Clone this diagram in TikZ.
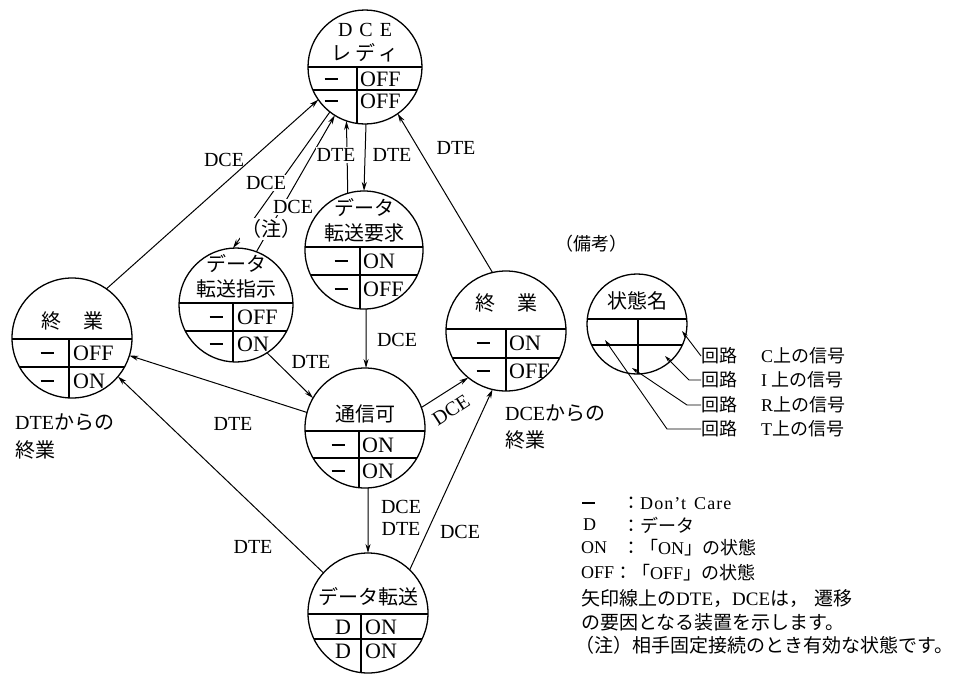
\documentclass[tikz,border=0pt]{standalone}
\usepackage{fontspec}
\setmainfont{Liberation Serif}
\newfontfamily\jpfont{Noto Sans CJK JP}
\newcommand\jp[1]{{\jpfont #1}}
\newcommand\dsh{\rule{13pt}{1.2pt}}
\usetikzlibrary{arrows.meta}
\newcommand\stc[7]{%
  \begin{scope}
    \clip (#2,#3) circle[radius=#4pt];
    \draw[cl] (#2-#4,#5) -- (#2+#4,#5);
    \draw[cl] (#2-#4,#6) -- (#2+#4,#6);
    \draw[cl] (#7,#5) -- (#7,#3+#4);
  \end{scope}
  \node[stc, minimum size=#4pt*2] (#1) at (#2,#3) {};}
\begin{document}
\begin{tikzpicture}[x=1pt,y=-1pt,
  stc/.style={circle,draw,line width=1.3pt,inner sep=0pt,outer sep=0pt},
  cl/.style={line width=1.1pt},
  arr/.style={line width=1pt,-{Stealth[length=9pt,width=5pt]}},
  larr/.style={line width=0.9pt,-{Stealth[length=7pt,width=4pt]}},
  lbl/.style={font=\fontsize{20}{22}\selectfont,inner sep=1pt},
  wl/.style={lbl,fill=white},
  ttl/.style={font=\fontsize{20}{22}\selectfont\jpfont,inner sep=0pt},
  cell/.style={font=\fontsize{22}{24}\selectfont,inner sep=0pt},
  cellw/.style={cell,anchor=west},
  leg/.style={font=\fontsize{18}{20}\selectfont,anchor=west,inner sep=0pt},
  legj/.style={font=\fontsize{19}{21}\selectfont,anchor=west,inner sep=0pt},
  side/.style={font=\fontsize{20}{22}\selectfont,anchor=west,inner sep=0pt},
]
\useasboundingbox (0,0) rectangle (979,699);

% ---- state circles ----
\stc{A}{365}{67}{57}{67}{90}{357}
\node[lbl] (At) at (365,30) {D\hspace{7pt}C\hspace{7pt}E};
\node[ttl] (As) at (365,53) {レ\hspace{4pt}デ\hspace{3pt}ィ};
\node[cell] (A1) at (331,79) {\dsh};
\node[cellw] (A2) at (360,79) {OFF};
\node[cell] (A3) at (331,101) {\dsh};
\node[cellw] (A4) at (360,101) {OFF};

\stc{B}{364}{250}{59}{247}{275}{360}
\node[ttl] (Bt) at (364,208) {データ};
\node[ttl] (Bs) at (364,233) {転送要求};
\node[cell] (B1) at (341,261) {\dsh};
\node[cellw] (B2) at (363,261) {ON};
\node[cell] (B3) at (341,289) {\dsh};
\node[cellw] (B4) at (363,289) {OFF};

\stc{C}{236}{305}{57}{303}{331}{233}
\node[ttl] (Ct) at (236,264) {データ};
\node[ttl] (Cs) at (236,289) {転送指示};
\node[cell] (C1) at (216,317) {\dsh};
\node[cellw] (C2) at (237,317) {OFF};
\node[cell] (C3) at (216,344) {\dsh};
\node[cellw] (C4) at (237,344) {ON};

\stc{D}{72}{338}{60}{339}{367}{69}
\node[ttl] (Dt) at (72,321) {終\hspace{22pt}業};
\node[cell] (D1) at (47,353) {\dsh};
\node[cellw] (D2) at (73,353) {OFF};
\node[cell] (D3) at (47,381) {\dsh};
\node[cellw] (D4) at (73,381) {ON};

\stc{E}{365}{428}{60}{431}{458}{359}
\node[ttl] (Et) at (365,414) {通信可};
\node[cell] (E1) at (338,445) {\dsh};
\node[cellw] (E2) at (362,445) {ON};
\node[cell] (E3) at (338,471) {\dsh};
\node[cellw] (E4) at (362,471) {ON};

\stc{F}{506}{331}{60}{329}{358}{506}
\node[ttl] (Ft) at (506,303) {終\hspace{22pt}業};
\node[cell] (F1) at (483,343) {\dsh};
\node[cellw] (F2) at (509,343) {ON};
\node[cell] (F3) at (483,371) {\dsh};
\node[cellw] (F4) at (509,371) {OFF};

\stc{G}{368}{613}{60}{614}{639}{361}
\node[ttl] (Gt) at (368,597) {データ転送};
\node[cell] (G1) at (343,627) {D};
\node[cellw] (G2) at (365,627) {ON};
\node[cell] (G3) at (343,651) {D};
\node[cellw] (G4) at (365,651) {ON};

\stc{H}{637}{324}{50}{319}{345}{638}
\node[ttl] (Ht) at (637,301) {状態名};

% ---- transitions ----
\draw[arr] (D.55) -- (A.215);
\draw[arr] (A.232) -- (C.93);
\draw[arr] (C.69) -- (A.238);
\draw[arr] (B.106.7) -- (A.251.6);
\draw[arr] (A.271) -- (B.90);
\draw[arr] (F.103) -- (A.-55);
\draw[arr] (B.272) -- (E.89);
\draw[arr] (C.-57) -- (E.150);
\draw[arr] (E.165) -- (D.-17);
\draw[arr] (G.138) -- (D.-40);
\draw[arr] (E.273) -- (G.90);
\draw[arr] (G.46) -- (F.-103);
\draw[arr] (E.20) -- (F.-129);

% ---- transition labels ----
\node[lbl] (l1) at (224,160) {DCE};
\node[wl] (l2) at (266,183) {DCE};
\node[wl] (l3) at (293,207) {DCE};
\node[wl] (l4) at (271,229) {\jp{（注）}};
\node[wl] (l5) at (336,155) {DTE};
\node[lbl] (l6) at (392,155) {DTE};
\node[lbl] (l7) at (456,148) {DTE};
\node[lbl] (l8) at (397,340) {DCE};
\node[lbl] (l9) at (311,362) {DTE};
\node[lbl] (l10) at (233,424) {DTE};
\node[lbl] (l11) at (253,547) {DTE};
\node[lbl] (l12) at (401,507) {DCE};
\node[lbl] (l13) at (401,529) {DTE};
\node[lbl] (l14) at (460,532) {DCE};
\node[lbl,inner sep=0pt,rotate=33] (l15) at (451,410) {DCE};

% ---- side captions ----
\node[side] (s1) at (15,422) {DTE\jp{からの}};
\node[side] (s2) at (15,450) {\jp{終業}};
\node[side] (s3) at (505,413) {DCE\jp{からの}};
\node[side] (s4) at (505,440) {\jp{終業}};

% ---- legend ----
\node[leg] (bk) at (555,244) {\jp{（備考）}};
\coordinate (pC) at (682,331);
\coordinate (pI) at (665,356);
\coordinate (pR) at (632,368);
\coordinate (pT) at (605,340);
\node[leg] (lC) at (701,356) {\jp{回路}\hspace{24pt}C\jp{上の信号}};
\node[leg] (lI) at (701,380) {\jp{回路}\hspace{24pt}I\hspace{4pt}\jp{上の信号}};
\node[leg] (lR) at (701,405) {\jp{回路}\hspace{24pt}R\jp{上の信号}};
\node[leg] (lT) at (701,429) {\jp{回路}\hspace{24pt}T\jp{上の信号}};
\draw[larr] (lC.west) -- (pC);
\draw[larr] (lI.west) -- ++(-12,0) -- (pI);
\draw[larr] (lR.west) -- ++(-14,0) -- (pR);
\draw[larr] (lT.west) -- ++(-34,0) -- (pT);

\node[leg] (k1a) at (582,503) {\dsh};
\node[leg] (k1b) at (622,503) {\jp{：}{\addfontfeatures{LetterSpace=6}Don't\hspace{8pt}Care}};
\node[leg] (k2a) at (583,525) {D};
\node[leg] (k2b) at (622,525) {\jp{：データ}};
\node[leg] (k3a) at (581,548) {ON};
\node[leg] (k3b) at (622,548) {\jp{：「}ON\jp{」の状態}};
\node[leg] (k4a) at (581,573) {OFF};
\node[leg] (k4b) at (614,573) {\jp{：「}OFF\jp{」の状態}};
\node[legj] (k5) at (581,598) {\jp{矢印線上の}DTE\jp{，}DCE\jp{は，}\hspace{6pt}\jp{遷移}};
\node[legj] (k6) at (581,622) {\jp{の要因となる装置を示します。}};
\node[legj] (k7) at (575,645) {\jp{（注）相手固定接続のとき有効な状態です。}};
\end{tikzpicture}
\end{document}
